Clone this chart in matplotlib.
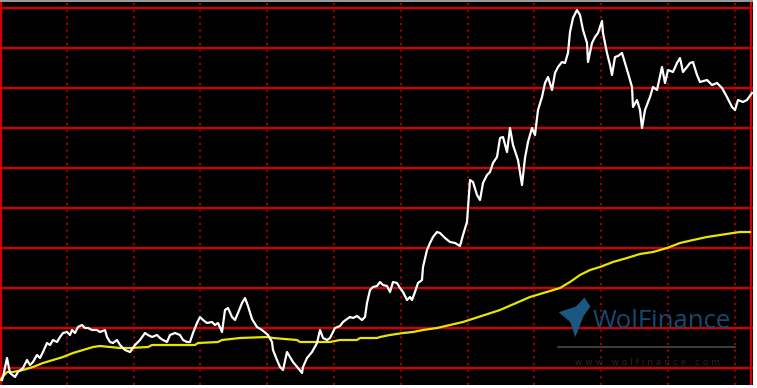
import matplotlib
matplotlib.use("Agg")
import matplotlib.pyplot as plt
import numpy as np
from matplotlib.patches import Polygon

# ---- data ----
price_days = [2,3,7,10,15,18,23,27,30,33,37,40,43,47,50,53,57,60,63,67,70,72,75,78,82,85,88,92,97,100,
              105,107,110,113,117,120,125,130,135,140,145,148,152,157,160,163,167,170,175,180,183,187,190,193,
              197,200,203,207,212,215,218,222,225,228,232,235,238,242,245,248,252,257,262,268,272,273,277,280,
              283,287,290,293,298,302,303,307,312,317,320,323,327,330,335,340,343,347,350,353,357,362,365,367,
              370,373,377,380,383,387,390,393,397,400,403,407,410,412,415,418,422,423,427,430,433,437,440,445,
              450,455,460,463,467,470,473,477,480,483,487,490,493,497,500,503,507,510,513,518,522,525,528,532,
              535,538,542,545,548,552,555,558,562,565,568,570,573,577,580,583,587,588,592,595,598,602,603,607,
              610,612,615,618,622,625,628,632,633,637,640,642,645,650,653,657,662,665,668,673,677,680,683,687,
              690,693,697,700,707,712,717,722,727,732,735,738,743,747,752]
price_vals = [97.0,97.75,102.5,98.75,97.75,99.0,100.0,102.0,100.75,101.5,103.25,102.5,104.0,106.25,105.75,
              107.0,106.5,107.75,108.75,109.0,108.25,109.5,108.75,110.25,110.75,110.0,110.0,109.5,109.5,109.0,
              109.5,107.75,106.5,106.25,107.0,105.75,104.5,104.0,105.75,107.0,108.75,108.25,107.75,108.25,107.5,
              107.0,106.5,108.25,108.75,108.25,107.0,106.5,106.5,108.75,111.25,112.75,112.0,111.25,111.5,110.75,
              111.25,109.0,114.5,115.0,112.75,112.0,113.75,116.25,117.5,115.5,112.25,110.25,109.5,108.25,106.5,
              104.5,102.0,100.25,99.5,104.0,102.75,101.5,100.0,98.75,100.25,102.5,104.0,106.25,109.5,107.5,
              107.0,107.5,110.0,110.5,111.5,112.25,112.75,112.5,113.0,112.0,112.75,116.25,119.5,120.25,120.5,
              121.5,120.75,120.5,119.0,121.5,121.25,120.0,119.0,117.0,117.75,117.0,119.0,121.25,122.0,125.25,
              129.5,131.25,132.75,134.0,133.75,132.5,131.5,131.25,130.5,133.25,136.5,147.0,146.5,143.25,142.0,
              146.25,148.25,149.0,151.25,152.75,157.5,157.75,154.0,160.0,155.75,152.0,145.75,152.5,156.5,160.0,
              158.25,164.5,167.75,171.25,172.75,169.5,173.75,175.25,176.5,176.25,178.75,184.0,187.5,189.5,188.25,
              184.5,181.25,176.5,181.25,182.75,183.75,186.75,183.75,178.75,175.75,173.25,177.75,178.0,178.75,
              176.25,173.75,170.25,165.25,167.0,164.5,160.0,164.5,167.75,170.25,169.5,175.25,171.25,174.5,174.0,
              176.25,177.5,174.0,175.25,176.25,176.5,173.25,171.5,172.0,170.75,171.25,170.0,167.75,165.25,164.5,
              167.0,166.5,167.0,168.75]

ma_days = [0,7,13,23,33,43,53,63,73,83,93,100,110,120,130,148,152,195,198,218,222,240,267,273,297,300,330,
           340,357,360,377,380,390,403,413,423,437,463,500,530,560,570,580,590,600,613,627,640,653,667,680,
           693,707,720,733,740,750]
ma_vals = [97.0,99.0,99.0,99.5,100.25,101.25,102.0,102.75,103.75,104.5,105.25,105.5,105.25,105.0,105.0,
           105.25,105.75,105.75,106.25,106.5,107.0,107.5,107.75,107.5,107.0,106.5,106.5,107.0,107.0,107.5,
           107.5,107.75,108.25,108.75,109.0,109.5,110.0,111.5,114.5,117.75,120.0,121.5,123.25,124.5,125.25,
           126.5,127.5,128.5,129.0,130.0,131.25,132.0,132.75,133.25,133.75,134.0,134.0]

h_grid = [100, 110, 120, 130, 140, 150, 160, 170, 180, 190]
v_grid = [66.8, 133.6, 200.4, 267.2, 334.0, 400.8, 467.6, 534.4, 601.2, 668.0, 734.8]

W, H = 757, 388
fig = plt.figure(figsize=(W / 100, H / 100), dpi=100, facecolor="white")
# thin grey strip at the very top
fig.patches.append(plt.Rectangle((0, 386 / H), 753 / W, 2 / H, transform=fig.transFigure,
                                 facecolor="#9a9a9a", edgecolor="none"))
ax = fig.add_axes([0 / W, 3 / H, 753 / W, 383 / H])
ax.set_facecolor("black")
ax.set_xlim(0, 753)
ax.set_ylim(95.75, 191.5)
for s in ax.spines.values():
    s.set_visible(False)
ax.set_xticks([])
ax.set_yticks([])

for y in h_grid:
    ax.axhline(y, color="#d00000", lw=1.7, zorder=1)
for x in v_grid:
    ax.axvline(x, color="#a30000", lw=1.5, ls=(0, (1, 2.2)), zorder=1)
ax.axvline(1.5, color="#d00000", lw=1.7, zorder=1)
ax.axvline(751.5, color="#d00000", lw=1.7, zorder=1)

# watermark
ax.text(0.787, 0.165, "WolFinance", transform=ax.transAxes, fontsize=18.5,
        family="Open Sans", color="#174a72", ha="left", va="center", zorder=2)
ax.plot([0.741, 0.976], [0.098, 0.098], transform=ax.transAxes, color="#4a4a4a", lw=1.2, zorder=2)
ax.text(0.86, 0.06, "w w w . w o l f i n a n c e . c o m", transform=ax.transAxes, fontsize=6.5,
        color="#262626", ha="center", va="center", zorder=2)
logo = Polygon([[0.742, 0.19], [0.765, 0.205], [0.776, 0.228], [0.784, 0.205], [0.775, 0.18],
                [0.764, 0.125], [0.757, 0.165]], closed=True, transform=ax.transAxes,
               facecolor="#1a5880", edgecolor="none", zorder=2)
ax.add_patch(logo)

ax.plot(ma_days, ma_vals, color="#e6e600", lw=1.6, zorder=3)
ax.plot(price_days, price_vals, color="white", lw=1.6, zorder=4)

fig.savefig("out.png", dpi=100, facecolor=fig.get_facecolor())
